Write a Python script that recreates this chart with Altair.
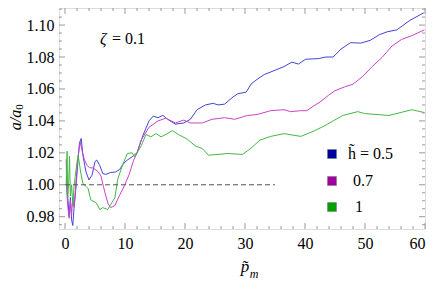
import altair as alt
import pandas as pd

# ---- data ----
series = ["0.5", "0.7", "1"]

blue_p = [0.3, 0.5, 0.7, 0.9, 1.1, 1.3, 1.5, 1.8, 2.1, 2.4, 2.7, 3.0, 3.5, 4.0, 4.5, 5.0, 5.3, 5.8, 6.3, 6.8,
          7.6, 8.4, 9.1, 9.6, 10.2, 11.0, 12.0, 13.0, 14.0, 14.7, 15.5, 16.3, 17.1, 18.4, 19.8, 20.9, 22.0,
          23.4, 24.7, 25.5, 26.6, 28.0, 28.8, 30.2, 31.0, 32.0, 33.2, 34.8, 36.5, 37.8, 38.9, 40.1, 42.2,
          43.5, 44.7, 46.0, 47.6, 49.3, 50.9, 52.4, 53.7, 55.3, 57.5, 59.8]
blue_a = [1.000, 0.990, 0.980, 0.992, 0.978, 0.9745, 0.985, 0.997, 1.012, 1.026, 1.029, 1.018, 1.008, 1.003,
          1.006, 1.0145, 1.0155, 1.012, 1.007, 1.0065, 1.0077, 1.008, 1.0095, 1.0125, 1.015, 1.017, 1.020,
          1.031, 1.040, 1.043, 1.042, 1.0435, 1.041, 1.038, 1.0387, 1.041, 1.047, 1.050, 1.051, 1.050,
          1.0505, 1.055, 1.057, 1.058, 1.063, 1.066, 1.069, 1.0714, 1.074, 1.0768, 1.0756, 1.0786, 1.079,
          1.080, 1.080, 1.085, 1.089, 1.0887, 1.0905, 1.094, 1.0958, 1.097, 1.103, 1.1077]

mag_p = [0.2, 0.3, 0.5, 0.7, 0.9, 1.1, 1.3, 1.5, 1.8, 2.1, 2.5, 2.8, 3.2, 3.7, 4.1, 4.7, 5.5, 6.0, 6.4, 6.8,
         7.2, 7.6, 8.3, 9.1, 9.9, 10.7, 11.4, 12.0, 12.7, 14.0, 15.5, 16.8, 18.4, 19.8, 20.9, 22.9, 24.5,
         26.6, 28.3, 30.4, 32.0, 34.3, 36.5, 37.6, 39.3, 40.3, 41.5, 42.5, 43.9, 45.0, 46.6, 48.0, 49.6,
         51.2, 52.9, 54.5, 56.1, 57.8, 59.9]
mag_a = [1.016, 0.995, 0.985, 0.979, 0.990, 0.981, 0.992, 0.986, 1.000, 1.015, 1.027, 1.022, 1.016, 1.012,
         1.0107, 1.0105, 1.0083, 1.0054, 0.999, 0.993, 0.988, 0.9857, 0.9869, 0.9935, 0.9994, 1.0065, 1.015,
         1.020, 1.028, 1.036, 1.040, 1.0417, 1.0387, 1.0405, 1.0387, 1.0387, 1.041, 1.042, 1.041, 1.0434,
         1.044, 1.0464, 1.047, 1.0458, 1.0464, 1.0464, 1.0495, 1.0518, 1.056, 1.0589, 1.0613, 1.063, 1.0678,
         1.074, 1.080, 1.0869, 1.091, 1.0934, 1.097]

grn_p = [0.2, 0.35, 0.45, 0.6, 0.75, 0.9, 1.1, 1.3, 1.5, 1.7, 2.0, 2.2, 2.6, 3.0, 3.5, 3.85, 4.3, 5.2, 5.8,
         6.3, 7.1, 7.6, 8.3, 8.8, 9.6, 10.4, 11.2, 11.6, 12.7, 13.5, 14.3, 15.2, 16.0, 16.8, 17.9, 18.9,
         20.4, 21.7, 22.9, 23.9, 25.5, 27.1, 29.6, 31.0, 32.5, 34.3, 36.5, 39.3, 41.4, 43.3, 44.7, 46.3,
         48.8, 49.9, 54.0, 57.8, 59.9]
grn_a = [1.000, 1.021, 0.992, 1.000, 1.018, 0.993, 1.000, 0.987, 0.999, 1.005, 1.014, 1.0185, 1.008, 1.0006,
         0.999, 0.9976, 0.9905, 0.9887, 0.9845, 0.9857, 0.9845, 0.9875, 0.9917, 1.0036, 1.0125, 1.0196,
         1.020, 1.0173, 1.0244, 1.0315, 1.030, 1.0321, 1.030, 1.0315, 1.0339, 1.0315, 1.0285, 1.0244,
         1.0226, 1.0185, 1.019, 1.0196, 1.019, 1.0229, 1.028, 1.0303, 1.032, 1.0303, 1.0335, 1.037, 1.040,
         1.0434, 1.0458, 1.0446, 1.0434, 1.047, 1.0452]

x_major = [0, 10, 20, 30, 40, 50, 60]
x_minor = [v for v in range(0, 61, 2) if v % 10 != 0]
y_major = [0.98, 1.00, 1.02, 1.04, 1.06, 1.08, 1.10]
y_minor = [round(0.975 + 0.005 * i, 3) for i in range(28) if i % 4 != 1]

dash_x0, dash_x1, dash_y = [0], [35], [1.0]

line_colors = ["#4444d4", "#c844c8", "#44b844"]
swatch_colors = ["#00009c", "#a000a0", "#00a000"]
legend_labels = ["h\u0303 = 0.5", "0.7", "1"]

# ---- layout ----
W, H = 366, 221
FONT = "Liberation Serif"
GRAY = "#999999"

xs = alt.Scale(domain=[-1, 60], nice=False, zero=False)
ys = alt.Scale(domain=[0.9723, 1.1107], nice=False, zero=False)
AX = alt.Axis(values=x_major, ticks=False, domain=False, grid=False, title=None, labelFont=FONT,
              labelFontSize=16, labelColor="black", labelPadding=6, format="d")
AY = alt.Axis(values=y_major, ticks=False, domain=False, grid=False, title=None, labelFont=FONT,
              labelFontSize=16, labelColor="black", labelPadding=5, format=".2f")

frames = []
for name, p, a in [(series[0], blue_p, blue_a), (series[1], mag_p, mag_a), (series[2], grn_p, grn_a)]:
    frames.append(pd.DataFrame({"p": p, "a": a, "h": name, "o": list(range(len(p)))}))
df = pd.concat(frames, ignore_index=True)

lines = alt.Chart(df).mark_line(strokeWidth=1, clip=True).encode(
    x=alt.X("p:Q", scale=xs, axis=AX),
    y=alt.Y("a:Q", scale=ys, axis=AY),
    color=alt.Color("h:N", scale=alt.Scale(domain=series, range=line_colors), legend=None),
    detail="h:N",
    order="o:Q",
)

dash = alt.Chart(pd.DataFrame({"x0": dash_x0, "x1": dash_x1, "y": dash_y})).mark_rule(
    color="#555555", strokeDash=[5, 3], strokeWidth=1
).encode(x=alt.X("x0:Q", scale=xs, axis=AX), x2="x1:Q", y=alt.Y("y:Q", scale=ys, axis=AY))


def xticks(vals, L):
    d = pd.DataFrame({"v": vals})
    b = alt.Chart(d).mark_rule(color=GRAY, strokeWidth=1).encode(
        x=alt.X("v:Q", scale=xs, axis=AX), y=alt.value(H), y2=alt.value(H - L))
    t = alt.Chart(d).mark_rule(color=GRAY, strokeWidth=1).encode(
        x=alt.X("v:Q", scale=xs, axis=AX), y=alt.value(0), y2=alt.value(L))
    return [b, t]


def yticks(vals, L):
    d = pd.DataFrame({"v": vals})
    l = alt.Chart(d).mark_rule(color=GRAY, strokeWidth=1).encode(
        y=alt.Y("v:Q", scale=ys, axis=AY), x=alt.value(0), x2=alt.value(L))
    r = alt.Chart(d).mark_rule(color=GRAY, strokeWidth=1).encode(
        y=alt.Y("v:Q", scale=ys, axis=AY), x=alt.value(W), x2=alt.value(W - L))
    return [l, r]


ticks = xticks(x_major, 6) + xticks(x_minor, 3) + yticks(y_major, 6) + yticks(y_minor, 3)

leg_df = pd.DataFrame({"lab": legend_labels, "fill": swatch_colors, "yy": [146, 173, 199],
                       "lx": [289, 294, 296]})
leg_sq = alt.Chart(leg_df).mark_square(size=81, opacity=1, stroke="#777777", strokeWidth=0.5).encode(
    x=alt.value(273), y=alt.Y("yy:Q", scale=None, axis=None), fill=alt.Fill("fill:N", scale=None))
leg_tx = alt.Chart(leg_df).mark_text(font=FONT, fontSize=16, align="left", baseline="middle",
                                     color="black").encode(
    x=alt.X("lx:Q", scale=None, axis=None), y=alt.Y("yy:Q", scale=None, axis=None), text="lab:N")

one = pd.DataFrame({"t": [""]})


def label(txt, x, y, size=16, style="normal", angle=0, align="left", baseline="middle"):
    return alt.Chart(one).mark_text(text=txt, font=FONT, fontSize=size, fontStyle=style, angle=angle,
                                    align=align, baseline=baseline, color="black").encode(
        x=alt.value(x), y=alt.value(y))


texts = [
    label("\u03b6", 41, 31, 16, "italic"),
    label("= 0.1", 53, 31, 16),
    label("p\u0303", 186, 264, 17, "italic", align="center", baseline="alphabetic"),
    label("m", 195, 270, 12, "italic", align="center", baseline="alphabetic"),
    label("a/a", -43, 112, 16, "italic", angle=270, align="center", baseline="middle"),
    label("0", -39, 99, 11, "normal", angle=270, align="center", baseline="middle"),
]

chart = alt.layer(lines, dash, *ticks, leg_sq, leg_tx, *texts).properties(
    width=W, height=H,
    padding={"left": 51, "top": 0, "right": 9, "bottom": 52},
    autosize=alt.AutoSizeParams(type="none"),
).configure_view(stroke=GRAY, strokeWidth=1).configure(background="white")

chart.save("out.html", embed_options={"renderer": "svg", "actions": False})
